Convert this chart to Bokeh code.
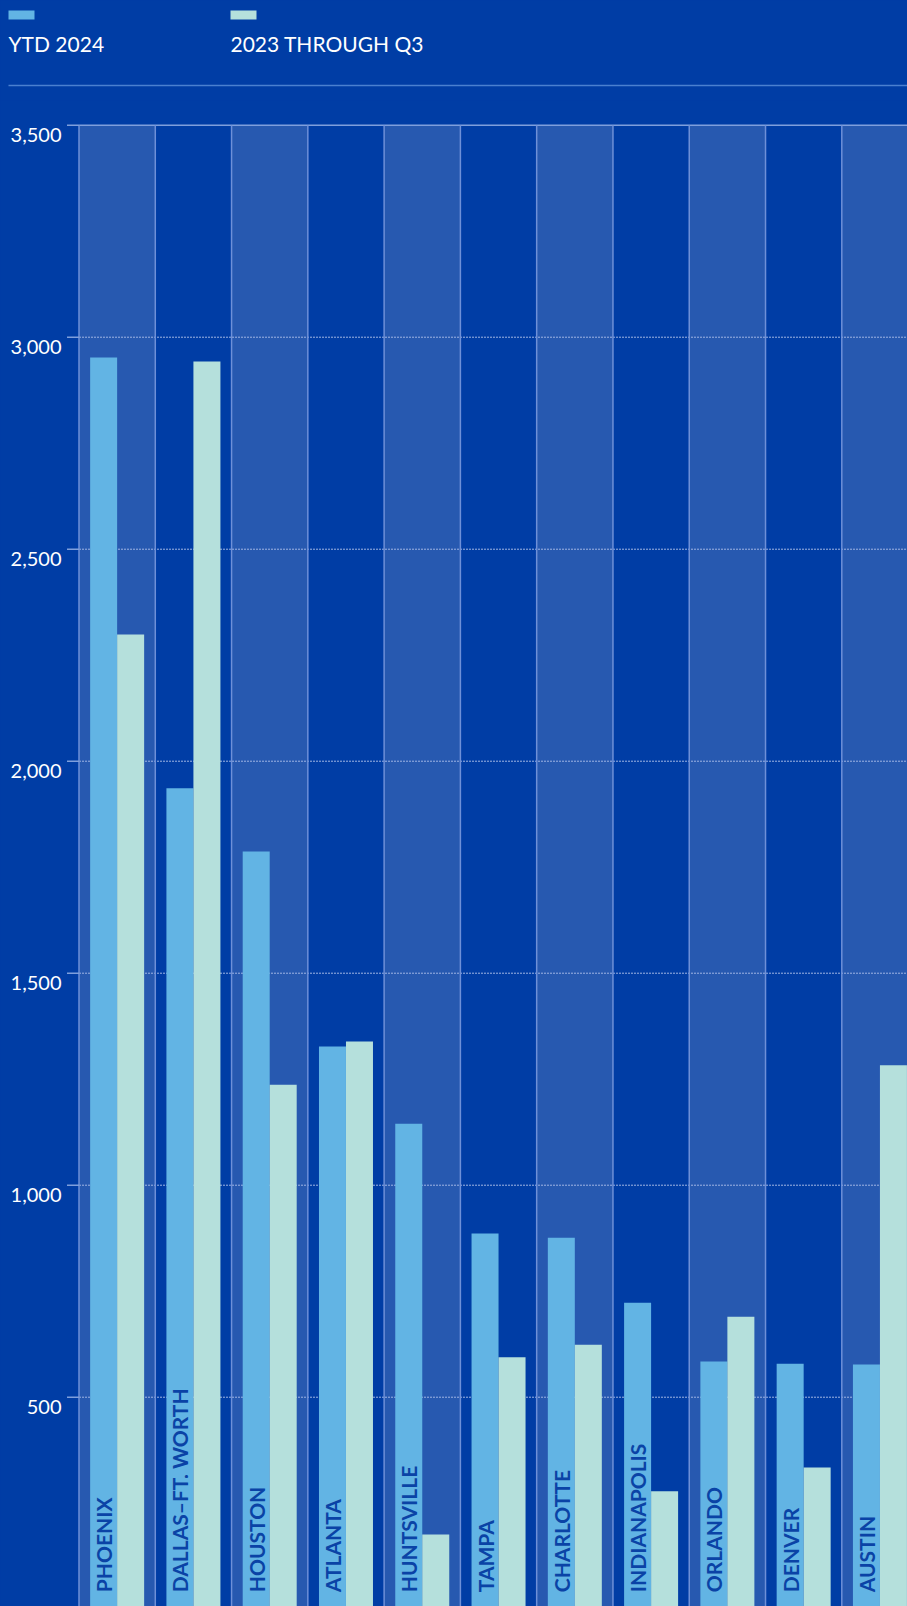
from math import pi

from bokeh.core.properties import value
from bokeh.embed import file_html
from bokeh.layouts import column
from bokeh.models import ColumnDataSource, Range1d
from bokeh.plotting import figure
from bokeh.resources import INLINE
from bokeh.transform import dodge

# --- data -------------------------------------------------------------
markets = ["PHOENIX", "DALLAS–FT. WORTH", "HOUSTON", "ATLANTA", "HUNTSVILLE",
           "TAMPA", "CHARLOTTE", "INDIANAPOLIS", "ORLANDO", "DENVER", "AUSTIN"]
ytd_2024 = [2952, 1936, 1787, 1327, 1145, 886, 876, 723, 584, 579, 577]
thru_q3_2023 = [2299, 2943, 1237, 1339, 176, 594, 624, 278, 690, 334, 1283]
y_ticks = [500, 1000, 1500, 2000, 2500, 3000, 3500]
series_names = ["YTD 2024", "2023 THROUGH Q3"]

# --- styling ----------------------------------------------------------
BG = "#003DA5"
STRIPE = "#2759B0"
C_YTD = "#62B4E4"
C_PREV = "#B5E0DC"
RULE = "#6E90D8"
TICK = "#7F9FDC"
GRID = "#9FB5E3"
LABEL_DARK = "#0A43A6"
FONT = value("Lato")

W, H = 907, 1606
LEGEND_H = 100
MAIN_H = H - LEGEND_H
AXIS_PX = 78.5           # pixel position of the value axis
COL_PX = 76.28           # width of one market column in pixels
PX_PER_UNIT = 0.424      # vertical pixels per unit of value
BAR_W = 0.354
OFF = 0.177


def bare_figure(height, x_range, y_range):
    f = figure(width=W, height=height, x_range=x_range, y_range=y_range,
               toolbar_location=None, output_backend="svg", min_border=0,
               x_axis_location=None, y_axis_location=None,
               background_fill_color=BG, border_fill_color=BG,
               outline_line_color=None)
    f.grid.visible = False
    return f


# --- legend strip -----------------------------------------------------
lg = bare_figure(LEGEND_H, Range1d(0, W), Range1d(LEGEND_H, 0))
lg.quad(left=[8, 230], right=[34, 256], top=[10, 10], bottom=[19, 19],
        fill_color=[C_YTD, C_PREV], line_color=None)
lg.text(x=[8, 230], y=[43, 43], text=series_names, text_font=FONT,
        text_font_size="21px", text_color="white",
        text_baseline="middle", text_align="left")
lg.segment(x0=[8], x1=[W], y0=[85], y1=[85], line_color="#4A80D0",
           line_width=1.5)

# --- main chart -------------------------------------------------------
x_lo = -0.5 - AXIS_PX / COL_PX
x_hi = x_lo + W / COL_PX
y_start = 6.4
y_end = y_start + MAIN_H / PX_PER_UNIT

p = bare_figure(MAIN_H, Range1d(x_lo, x_hi), Range1d(y_start, y_end))

n = len(markets)
idx = list(range(n))
src = ColumnDataSource(dict(idx=idx, market=markets, ytd=ytd_2024,
                            prev=thru_q3_2023))
top = max(y_ticks)

# alternating column shading
p.vbar(x=idx[::2], top=top, bottom=0, width=1,
       fill_color=STRIPE, line_color=None)

# dotted gridlines and solid top rule
grid_y = y_ticks[:-1]
p.segment(x0=[-0.5] * len(grid_y), x1=[n] * len(grid_y),
          y0=grid_y, y1=grid_y, line_color=GRID,
          line_width=1, line_dash="2 1")
p.segment(x0=[-0.5], x1=[n], y0=[top], y1=[top],
          line_color=TICK, line_width=1.5)

# column separators (the first one doubles as the value axis)
bounds = [i - 0.5 for i in range(n + 1)]
p.segment(x0=bounds, x1=bounds, y0=[0] * len(bounds),
          y1=[top] * len(bounds), line_color=RULE, line_width=1.5)

# value-axis ticks and labels
p.ray(x=[-0.5] * len(y_ticks), y=y_ticks, length=12, length_units="screen",
      angle=pi, line_color=TICK, line_width=1.5)
p.text(x=[-0.5] * len(y_ticks), y=y_ticks,
       text=[f"{t:,}" for t in y_ticks], x_offset=-17.5, y_offset=9.5,
       text_align="right", text_baseline="middle", text_font=FONT,
       text_font_size="20px", text_color="white")

# bars
p.vbar(x=dodge("idx", -OFF, range=p.x_range), top="ytd", width=BAR_W,
       source=src, fill_color=C_YTD, line_color=None)
p.vbar(x=dodge("idx", OFF, range=p.x_range), top="prev", width=BAR_W,
       source=src, fill_color=C_PREV, line_color=None)

# market names running up the 2024 bars
p.text(x=dodge("idx", -OFF, range=p.x_range), y=0, text="market",
       source=src, angle=pi / 2, text_align="left", text_baseline="middle",
       y_offset=-17, text_font=FONT, text_font_style="bold",
       text_font_size="21px", text_color=LABEL_DARK)

layout = column(lg, p, spacing=0)
html = file_html(layout, INLINE, title="Market comparison")
html = html.replace("<head>", "<head><style>html,body{margin:0;padding:0;background:%s;}</style>" % BG, 1)
open("out.html", "w").write(html)
